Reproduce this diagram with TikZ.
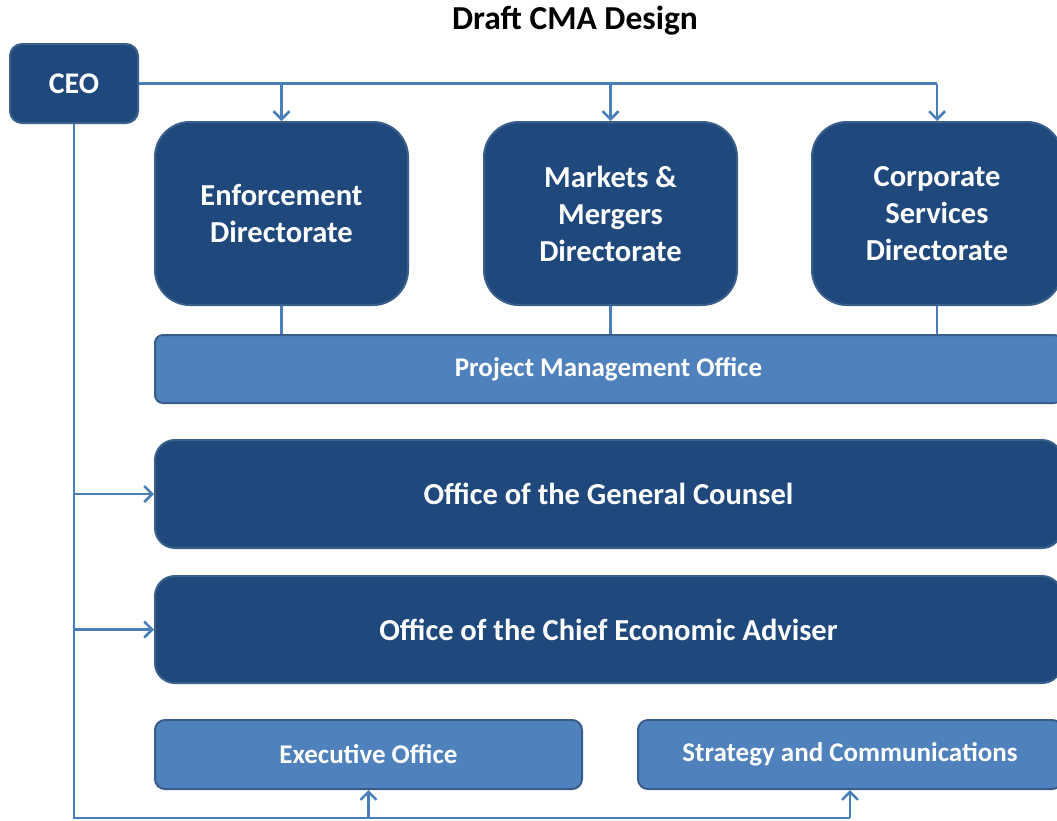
\documentclass[tikz,border=0pt]{standalone}
\usepackage{fontspec}
\setmainfont{Carlito}
\usetikzlibrary{arrows.meta}
\definecolor{darkbox}{HTML}{1F497D}
\definecolor{darkedge}{HTML}{3A5F8B}
\definecolor{lightbox}{HTML}{4F81BD}
\definecolor{lightedge}{HTML}{385D8A}
\definecolor{linkcol}{HTML}{4A7EBB}
\begin{document}
\begin{tikzpicture}[x=1pt,y=-1pt,
  darkunit/.style={draw=darkedge, line width=2pt, fill=darkbox, text=white, font=\bfseries\fontsize{30.5}{37}\selectfont, align=center, inner sep=0pt},
  lightunit/.style={draw=lightedge, line width=2pt, fill=lightbox, text=white, font=\bfseries\fontsize{27}{30}\selectfont, align=center, inner sep=0pt},
  link/.style={draw=linkcol, line width=2.5pt},
  arr/.style={link, -{Straight Barb[length=8pt,width=16pt,line width=2.5pt]}}]
\useasboundingbox (0,0) rectangle (1057,820);
\node[font=\bfseries\fontsize{33.5}{36}\selectfont] (title) at (575,21) {Draft CMA Design};
\node[darkunit, rounded corners=12pt, minimum width=128pt, minimum height=79pt, font=\bfseries\fontsize{30}{32}\selectfont] (ceo) at (74,83.5) {CEO};
\node[darkunit, rounded corners=35pt, minimum width=253pt, minimum height=183pt] (enf) at (281.5,213.5) {Enforcement\\Directorate};
\node[darkunit, rounded corners=35pt, minimum width=253pt, minimum height=183pt] (mkt) at (610.5,213.5) {Markets \&\\Mergers\\Directorate};
\node[darkunit, rounded corners=35pt, minimum width=250pt, minimum height=183pt] (corp) at (937,213.5) {Corporate\\Services\\Directorate};
\node[lightunit, rounded corners=8pt, minimum width=907pt, minimum height=68pt] (pmo) at (608.5,369) {Project Management Office};
\node[darkunit, rounded corners=20pt, minimum width=907pt, minimum height=108pt] (ogc) at (608.5,494) {Office of the General Counsel};
\node[darkunit, rounded corners=20pt, minimum width=907pt, minimum height=107pt] (ocea) at (608.5,629.5) {Office of the Chief Economic Adviser};
\node[lightunit, rounded corners=10pt, minimum width=427pt, minimum height=69pt] (exo) at (368.5,754.5) {Executive Office};
\node[lightunit, rounded corners=10pt, minimum width=424pt, minimum height=69pt] (stc) at (850,754.5) {Strategy and Communications};
\coordinate (bot) at (0,818);
% top row
\draw[link] (ceo.east) -- (corp.north |- ceo.east);
\draw[arr] (enf.north |- ceo.east) -- (enf.north);
\draw[arr] (mkt.north |- ceo.east) -- (mkt.north);
\draw[arr] (corp.north |- ceo.east) -- (corp.north);
\draw[link] (enf.south) -- (enf.south |- pmo.north);
\draw[link] (mkt.south) -- (mkt.south |- pmo.north);
\draw[link] (corp.south) -- (corp.south |- pmo.north);
% left spine
\draw[link] (ceo.south) |- (stc.south |- bot);
\draw[arr] (ceo.south |- ogc.west) -- (ogc.west);
\draw[arr] (ceo.south |- ocea.west) -- (ocea.west);
\draw[arr] (exo.south |- bot) -- (exo.south);
\draw[arr] (stc.south |- bot) -- (stc.south);
\end{tikzpicture}
\end{document}
